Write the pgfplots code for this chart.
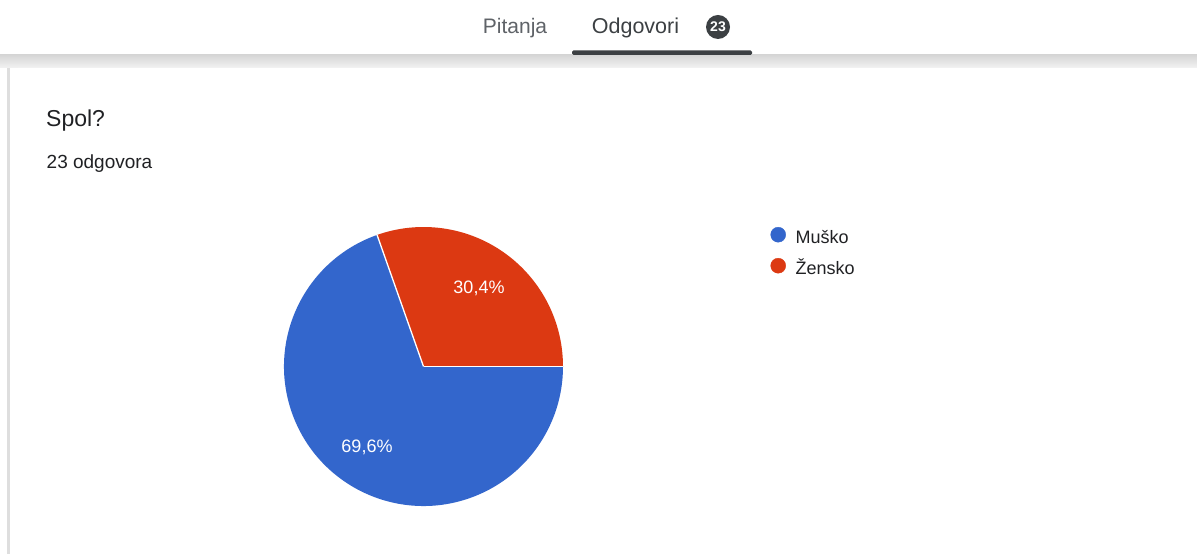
\documentclass[border=0pt]{standalone}
\usepackage{fontspec}
\setmainfont{Liberation Sans}
\usepackage{pgfplots}
\usepackage{pgfplotstable}
\pgfplotsset{compat=1.18}
\definecolor{pieblue}{HTML}{3366CC}
\definecolor{piered}{HTML}{DC3912}
\definecolor{txtdark}{HTML}{202124}
\definecolor{txtgray}{HTML}{5F6368}
\definecolor{tabdark}{HTML}{3C4043}

\pgfplotstableread{
share
69.6
30.4
}\sharetable
\pgfplotstablegetelem{0}{share}\of\sharetable \let\vm\pgfplotsretval
\pgfplotstablegetelem{1}{share}\of\sharetable \let\vz\pgfplotsretval
\pgfmathsetmacro{\az}{3.6*\vz}

\begin{document}
\begin{tikzpicture}
\begin{axis}[x=1pt,y=1pt,xmin=0,xmax=1197,ymin=0,ymax=554,
  hide axis, clip=false,
  legend style={draw=none, fill=none, at={(axis cs:770,327)}, anchor=north west,
    font=\fontsize{18}{21}\selectfont, text=txtdark,
    row sep=9pt, inner sep=0pt,
    nodes={inner sep=1.5pt, text height=13pt, text depth=4pt}},
  legend cell align=left,
  legend image code/.code={\path[draw=none,fill=none] (0pt,0pt) -- (24pt,0pt);\draw[#1] plot coordinates {(8pt,4.5pt)};},
]
% background
\fill[white] (axis cs:0,0) rectangle (axis cs:1197,554);
\shade[top color=black!16, bottom color=black!5] (axis cs:0,486) rectangle (axis cs:1197,499);
\fill[black!13] (axis cs:7,0) rectangle (axis cs:10,486);
\fill[white] (axis cs:10,0) -- (axis cs:10,478) arc[start angle=180,end angle=90,radius=8pt] -- (axis cs:1197,486) -- (axis cs:1197,0) -- cycle;

% tabs
\node[anchor=base, inner sep=0, text=txtgray, font=\fontsize{21}{24}\selectfont] at (axis cs:515,520) {Pitanja};
\node[anchor=base, inner sep=0, text=tabdark, font=\fontsize{21.5}{24}\selectfont] at (axis cs:635.5,520) {Odgovori};
\fill[tabdark] (axis cs:718,527) circle[radius=12pt];
\node[inner sep=0, text=white, font=\bfseries\fontsize{14}{16}\selectfont] at (axis cs:718,527) {23};
\fill[tabdark, rounded corners=1.5pt] (axis cs:572,499) rectangle (axis cs:752,503.5);

% titles
\node[anchor=base west, inner sep=0, text=txtdark, font=\fontsize{23}{26}\selectfont] at (axis cs:46,427.3) {Spol?};
\node[anchor=base west, inner sep=0, text=txtdark, font=\fontsize{19}{22}\selectfont] at (axis cs:46.5,385) {23 odgovora};

% pie
\fill[pieblue] (axis cs:423.5,187.5) -- ++(\az:139.5pt) arc[start angle=\az, end angle=360, radius=139.5pt] -- cycle;
\fill[piered] (axis cs:423.5,187.5) -- ++(0:139.5pt) arc[start angle=0, end angle=\az, radius=139.5pt] -- cycle;
\draw[white, line width=1.3pt] (axis cs:423.5,187.5) -- ++(0:139.5pt);
\draw[white, line width=1.3pt] (axis cs:423.5,187.5) -- ++(\az:139.5pt);
\node[text=white, font=\fontsize{18}{20}\selectfont] at (axis cs:479,266) {30,4\%};
\node[text=white, font=\fontsize{18}{20}\selectfont] at (axis cs:367,106.5) {69,6\%};

% legend
\addlegendimage{only marks, mark=*, color=pieblue, mark size=7.5pt}
\addlegendentry{Muško}
\addlegendimage{only marks, mark=*, color=piered, mark size=7.5pt}
\addlegendentry{Žensko}
\end{axis}
\end{tikzpicture}
\end{document}
